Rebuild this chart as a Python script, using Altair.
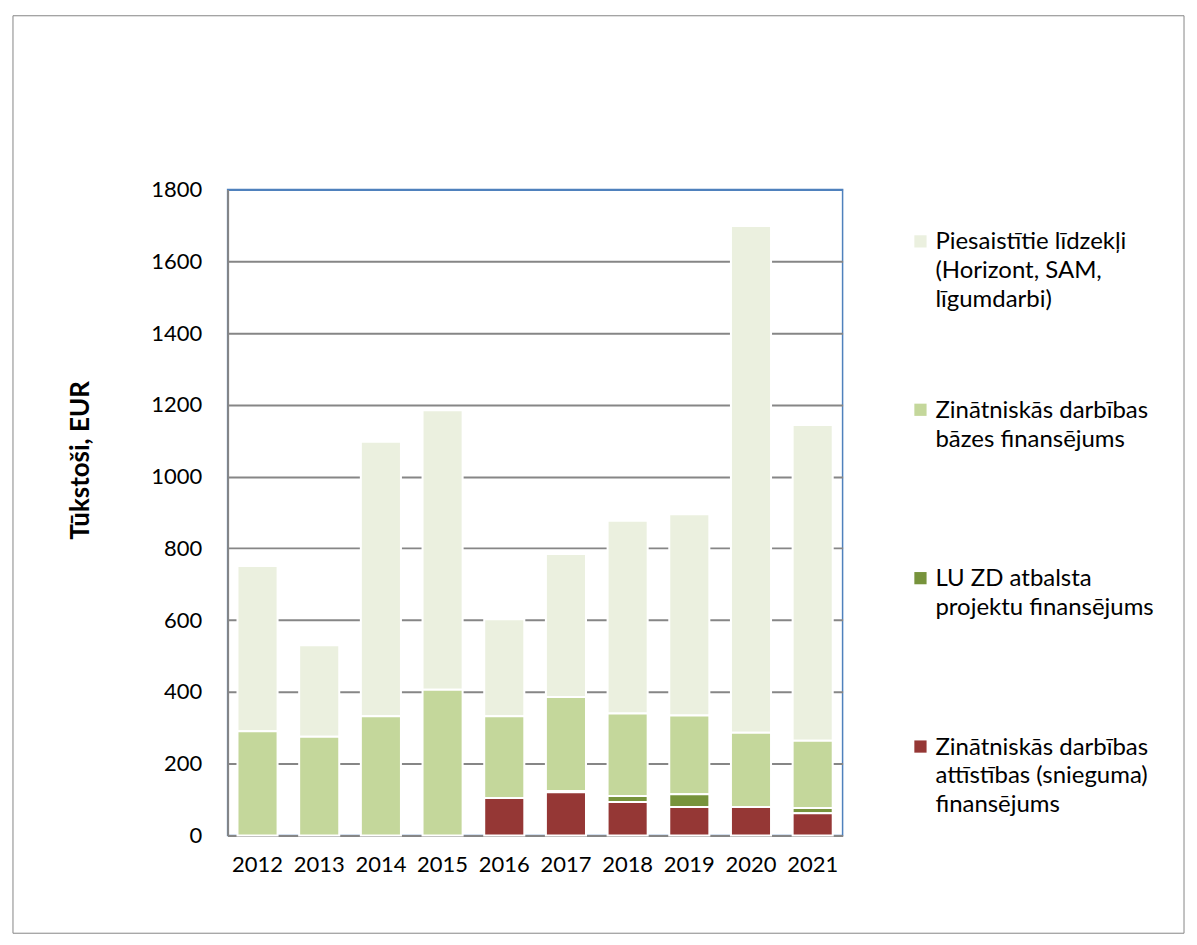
import altair as alt
import pandas as pd

years = ["2012", "2013", "2014", "2015", "2016", "2017", "2018", "2019", "2020", "2021"]
attistibas = [0, 0, 0, 0, 104, 120, 93, 79, 79, 62]
lu_zd = [0, 0, 0, 0, 0, 4, 17, 36, 0, 14]
bazes = [290, 275, 332, 406, 228, 262, 230, 219, 207, 188]
piesaistitie = [461, 255, 765, 779, 270, 398, 537, 561, 1412, 880]

series_names = [
    "Piesaistītie līdzekļi (Horizont, SAM, līgumdarbi)",
    "Zinātniskās darbības bāzes finansējums",
    "LU ZD atbalsta projektu finansējums",
    "Zinātniskās darbības attīstības (snieguma) finansējums",
]
legend_labels = [
    "Piesaistītie līdzekļi\n(Horizont, SAM,\nlīgumdarbi)",
    "Zinātniskās darbības\nbāzes finansējums",
    "LU ZD atbalsta\nprojektu finansējums",
    "Zinātniskās darbības\nattīstības (snieguma)\nfinansējums",
]
colors = ["#ebf0df", "#c4d79b", "#77933c", "#953735"]
series_values = [piesaistitie, bazes, lu_zd, attistibas]
stack_pos = [3, 2, 1, 0]

rows = []
for name, vals, pos in zip(series_names, series_values, stack_pos):
    for y, v in zip(years, vals):
        if v > 0:
            rows.append({"Gads": y, "Sērija": name, "Vērtība": v, "kārta": pos})
df = pd.DataFrame(rows)

legend_df = pd.DataFrame({
    "Sērija": series_names,
    "label": legend_labels,
    "idx": [0, 1, 2, 3],
})

FONT = "Lato"

bars = alt.Chart(df).mark_bar(stroke="white", strokeWidth=2).encode(
    x=alt.X("Gads:N", sort=years,
            scale=alt.Scale(paddingInner=0.35, paddingOuter=0.16),
            axis=alt.Axis(title=None, labelAngle=0, ticks=False, labelPadding=19,
                          labelFontSize=22, labelFont=FONT, labelColor="#000000",
                          domainColor="#868686", domainWidth=2)),
    y=alt.Y("Vērtība:Q", stack="zero",
            scale=alt.Scale(domain=[0, 1800], nice=False),
            axis=alt.Axis(title="Tūkstoši, EUR", values=list(range(0, 1801, 200)), format="d",
                          ticks=False, labelPadding=26, labelFontSize=22, labelFont=FONT,
                          labelColor="#000000", domainColor="#868686", domainWidth=2,
                          gridColor={"condition": {"test": "datum.value == 1800", "value": "#4f81bd"},
                                     "value": "#868686"},
                          gridWidth=2,
                          titleFont=FONT, titleFontSize=26, titleFontWeight="bold",
                          titleColor="#000000", titleAngle=270, titleX=-147, titleY=271,
                          titleBaseline="middle", titleAlign="center")),
    color=alt.Color("Sērija:N", scale=alt.Scale(domain=series_names, range=colors), legend=None),
    order=alt.Order("kārta:Q", sort="ascending"),
)

leg_y = alt.Y("idx:O", scale=alt.Scale(type="point", range=[52, 558], padding=0), axis=None)

leg_sq = alt.Chart(legend_df).mark_square(size=150, opacity=1).encode(
    x=alt.value(694),
    y=leg_y,
    color=alt.Color("Sērija:N", scale=alt.Scale(domain=series_names, range=colors), legend=None),
)

leg_txt = alt.Chart(legend_df).mark_text(
    align="left", baseline="alphabetic", dy=8, lineBreak="\n", lineHeight=29,
    fontSize=24, font=FONT, color="#000000"
).encode(
    x=alt.value(709),
    y=leg_y,
    text="label:N",
)

border = alt.Chart(pd.DataFrame({"k": [0]})).mark_rect(
    fill=None, stroke="#868686", strokeWidth=1
).encode(
    x=alt.value(-215), x2=alt.value(958), y=alt.value(-174), y2=alt.value(745)
)

chart = alt.layer(border, bars, leg_sq, leg_txt).resolve_scale(
    y="independent", color="shared"
).properties(
    width=616, height=647,
    padding={"left": 12, "top": 14, "right": 12, "bottom": 12},
    background="white",
).configure_view(stroke="#4f81bd", strokeWidth=1.5)

chart.save("out.html", embed_options={"renderer": "svg", "actions": False})
